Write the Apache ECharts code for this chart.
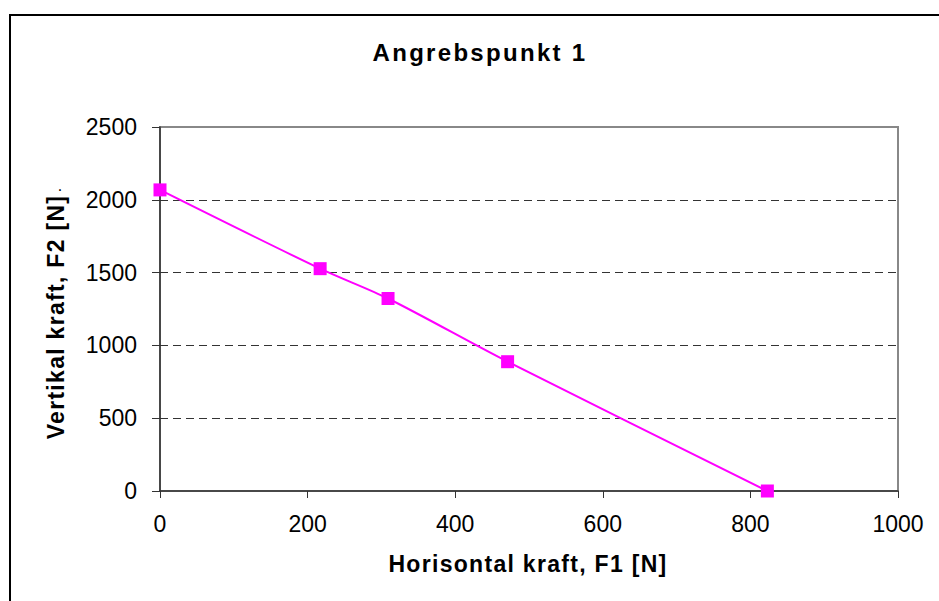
<!DOCTYPE html>
<html>
<head>
<meta charset="utf-8">
<script src="https://cdn.jsdelivr.net/npm/echarts@6/dist/echarts.min.js"></script>
<style>
  html, body { margin: 0; padding: 0; background: #fff; }
  #chart { width: 939px; height: 601px; }
  /* Excel-style spread lettering on the bold texts */
  #chart text[style*="bold 24px"] { letter-spacing: 2.3px; }
  #chart text[style*="bold 23px"] { letter-spacing: 1.3px; }
</style>
</head>
<body>
<div id="chart"></div>
<script>
// values
var titleText = 'Angrebspunkt 1'
var xName = 'Horisontal kraft, F1 [N]'
var yName = 'Vertikal kraft, F2 [N]'
var forceH = [0, 217, 309, 471, 823]
var forceV = [2068, 1527, 1322, 888, 0]

var font = '"Liberation Sans", Arial, sans-serif'
var pink = '#ff00ff'

var myChart = echarts.init(document.getElementById('chart'), null, { renderer: 'svg' })

var points = forceH.map(function (x, i) { return [x, forceV[i]] })
var plain = function (v) { return String(v) }

myChart.setOption({
    animation: false,
    backgroundColor: '#fff',
    textStyle: { fontFamily: font },
    grid: {
        left: 160, top: 127, width: 738, height: 364,
        show: true, borderColor: '#888', borderWidth: 2
    },
    xAxis: {
        type: 'value', min: 0, max: 1000, interval: 200,
        axisLine: { show: true, lineStyle: { color: '#333', width: 1.5 } },
        axisTick: { show: true, length: 7, lineStyle: { color: '#333' } },
        axisLabel: { fontSize: 23, color: '#000', margin: 21, fontFamily: font, formatter: plain },
        splitLine: { show: false }
    },
    yAxis: {
        type: 'value', min: 0, max: 2500, interval: 500,
        axisLine: { show: true, lineStyle: { color: '#333', width: 1.5 } },
        axisTick: { show: true, length: 8, lineStyle: { color: '#333' } },
        axisLabel: { fontSize: 23, color: '#000', margin: 23, fontFamily: font, formatter: plain },
        splitLine: {
            show: true, showMinLine: false, showMaxLine: false,
            lineStyle: { color: '#333', type: [8, 5], width: 1 }
        }
    },
    graphic: [
        {
            type: 'rect', silent: true, z: 100,
            shape: { x: 10, y: 15, width: 940, height: 600 },
            style: { fill: 'none', stroke: '#000', lineWidth: 2 }
        },
        {
            type: 'text', x: 480, y: 52,
            style: { text: titleText, font: 'bold 24px ' + font, fill: '#000', align: 'center', verticalAlign: 'middle' }
        },
        {
            type: 'text', x: 528, y: 564,
            style: { text: xName, font: 'bold 23px ' + font, fill: '#000', align: 'center', verticalAlign: 'middle' }
        },
        {
            type: 'text', x: 56, y: 317, rotation: Math.PI / 2,
            style: { text: yName, font: 'bold 23px ' + font, fill: '#000', align: 'center', verticalAlign: 'middle' }
        },
        {
            type: 'text', x: 60, y: 185,
            style: { text: '.', font: '16px ' + font, fill: '#000', align: 'center', verticalAlign: 'middle' }
        }
    ],
    series: [{
        type: 'line',
        data: points,
        smooth: 0.3,
        symbol: 'rect',
        symbolSize: 13,
        itemStyle: { color: pink },
        lineStyle: { color: pink, width: 2 }
    }]
})
</script>
</body>
</html>
